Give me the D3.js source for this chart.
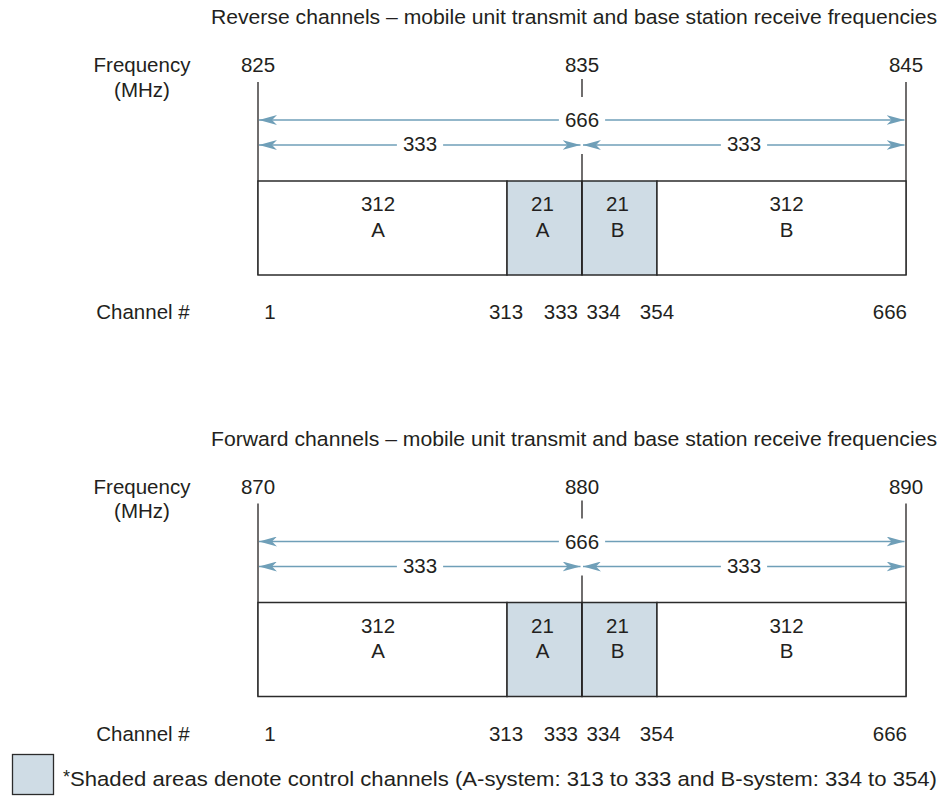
<!DOCTYPE html>
<html>
<head>
<meta charset="utf-8">
<script src="https://cdn.jsdelivr.net/npm/d3@7"></script>
<style>
  html, body { margin: 0; padding: 0; background: #fff; }
  svg { display: block; }
  text { font-family: "Liberation Sans", Arial, Helvetica, sans-serif; fill: #231f20; }
</style>
</head>
<body>
<svg id="chart" width="947" height="796"></svg>
<script>
// ---------------- DATA ----------------
const panelTitles = [
  "Reverse channels \u2013 mobile unit transmit and base station receive frequencies",
  "Forward channels \u2013 mobile unit transmit and base station receive frequencies"
];
const freqTicksReverse = [825, 835, 845];
const freqTicksForward = [870, 880, 890];
const freqLabel = ["Frequency", "(MHz)"];
const channelAxisLabel = "Channel #";

const segStart   = [0, 312, 333, 354];
const segEnd     = [312, 333, 354, 666];
const segCount   = [312, 21, 21, 312];
const segSystem  = ["A", "A", "B", "B"];
const segControl = [false, true, true, false];

const spanTotal = 666;        // total channels
const spanHalf  = [333, 333]; // A side, B side
const channelLabels = [1, 313, 333, 334, 354, 666];

const legendNote = "Shaded areas denote control channels (A-system: 313 to 333 and B-system: 334 to 354)";

// ---------------- LAYOUT ----------------
const W = 947, H = 796;
const left = 258, right = 906;
const panelOffsets = [0, 421.5];
const colText = "#231f20", colArrow = "#6f9fb8", colShade = "#cfdce5", colBox = "#2b2b2b";
const fs = 20.5;

const svg = d3.select("#chart");
const defs = svg.append("defs");
defs.append("marker")
  .attr("id", "ah").attr("viewBox", "0 0 18 10")
  .attr("refX", 18).attr("refY", 5)
  .attr("markerWidth", 18).attr("markerHeight", 10)
  .attr("markerUnits", "userSpaceOnUse")
  .attr("orient", "auto-start-reverse")
  .append("path").attr("d", "M0,0 L18,5 L0,10 L5,5 Z").attr("fill", colArrow);

// schematic channel scale (control bands drawn wider than proportional)
const frac = [0, 0.3843, 0.5, 0.6157, 1];
const chScale = d3.scaleLinear()
  .domain([0, 312, 333, 354, 666])
  .range(frac.map(f => left + f * (right - left)));

function fitText(sel, target) {
  const w = sel.node().getComputedTextLength();
  if (Math.abs(w - target) > 1) sel.attr("textLength", target).attr("lengthAdjust", "spacingAndGlyphs");
}

function drawPanel(idx, ticks) {
  const g = svg.append("g").attr("transform", `translate(0,${panelOffsets[idx]})`);
  const fScale = d3.scaleLinear().domain([ticks[0], ticks[ticks.length - 1]]).range([left, right]);

  // title
  const t = g.append("text").attr("x", 211).attr("y", 24).attr("font-size", fs).text(panelTitles[idx]);
  fitText(t, 726);

  // Frequency label
  freqLabel.forEach((s, i) => {
    g.append("text").attr("x", 142).attr("y", 72 + i * 24.5)
      .attr("text-anchor", "middle").attr("font-size", fs).text(s);
  });

  const boxTop = 181, boxBot = 275;

  // frequency tick labels
  g.selectAll("text.ft").data(ticks).join("text").attr("class", "ft")
    .attr("x", d => fScale(d)).attr("y", 72)
    .attr("text-anchor", "middle").attr("font-size", fs).text(d => d);

  // frequency tick lines
  ticks.forEach((d, i) => {
    const x = fScale(d);
    if (i === 0 || i === ticks.length - 1) {
      g.append("line").attr("x1", x).attr("x2", x).attr("y1", 82).attr("y2", boxBot)
        .attr("stroke", colText).attr("stroke-width", 1.3);
    } else {
      g.append("line").attr("x1", x).attr("x2", x).attr("y1", 79).attr("y2", 97)
        .attr("stroke", colText).attr("stroke-width", 1.3);
      g.append("line").attr("x1", x).attr("x2", x).attr("y1", 154).attr("y2", boxBot)
        .attr("stroke", colText).attr("stroke-width", 1.3);
    }
  });

  // segments (box)
  const segs = segStart.map((s, i) => ({ s, e: segEnd[i], n: segCount[i], sys: segSystem[i], ctrl: segControl[i] }));
  g.selectAll("rect.seg").data(segs).join("rect").attr("class", "seg")
    .attr("x", d => chScale(d.s)).attr("y", boxTop)
    .attr("width", d => chScale(d.e) - chScale(d.s)).attr("height", boxBot - boxTop)
    .attr("fill", d => d.ctrl ? colShade : "#fff")
    .attr("stroke", colBox).attr("stroke-width", 1.5);
  // centre divider on top
  g.append("line").attr("x1", fScale(ticks[1])).attr("x2", fScale(ticks[1]))
    .attr("y1", boxTop).attr("y2", boxBot).attr("stroke", colText).attr("stroke-width", 1.3);

  const nudge = [-4.5, -2, -2, 5];
  segs.forEach((d, i) => {
    const cx = (chScale(d.s) + chScale(d.e)) / 2 + nudge[i];
    g.append("text").attr("x", cx).attr("y", 211).attr("text-anchor", "middle").attr("font-size", fs).text(d.n);
    g.append("text").attr("x", cx).attr("y", 236.5).attr("text-anchor", "middle").attr("font-size", fs).text(d.sys);
  });

  // arrows
  function arrow(c0, c1, y, label, ty) {
    const x0 = chScale(c0) + 1, x1 = chScale(c1) - 1.5;
    g.append("line").attr("x1", x0).attr("x2", x1).attr("y1", y).attr("y2", y)
      .attr("stroke", colArrow).attr("stroke-width", 1.4)
      .attr("marker-start", "url(#ah)").attr("marker-end", "url(#ah)");
    const tx = g.append("text").attr("x", (chScale(c0) + chScale(c1)) / 2).attr("y", ty)
      .attr("text-anchor", "middle").attr("font-size", fs).text(label);
    const bb = tx.node().getBBox();
    g.insert("rect", () => tx.node())
      .attr("x", bb.x - 6).attr("y", y - 4).attr("width", bb.width + 12).attr("height", 8)
      .attr("fill", "#fff");
  }
  arrow(0, spanTotal, 120, spanTotal, 127);
  arrow(0, spanHalf[0], 145, spanHalf[0], 151);
  arrow(spanHalf[0], spanHalf[0] + spanHalf[1], 145, spanHalf[1], 151);

  // channel axis
  g.append("text").attr("x", 143).attr("y", 319).attr("text-anchor", "middle").attr("font-size", fs).text(channelAxisLabel);
  const chLayout = {
    1:   { at: 0,   dx: 12,  anchor: "middle" },
    313: { at: 312, dx: -1,  anchor: "middle" },
    333: { at: 333, dx: -4,  anchor: "end" },
    334: { at: 333, dx: 4.5, anchor: "start" },
    354: { at: 354, dx: 0,   anchor: "middle" },
    666: { at: 666, dx: 1,   anchor: "end" }
  };
  g.selectAll("text.ch").data(channelLabels).join("text").attr("class", "ch")
    .attr("x", d => chScale(chLayout[d].at) + chLayout[d].dx).attr("y", 319)
    .attr("text-anchor", d => chLayout[d].anchor).attr("font-size", fs).text(d => d);
}

drawPanel(0, freqTicksReverse);
drawPanel(1, freqTicksForward);

// legend
svg.append("rect").attr("x", 12.5).attr("y", 754.5).attr("width", 41).attr("height", 40)
  .attr("fill", colShade).attr("stroke", colBox).attr("stroke-width", 1.3);
svg.append("text").attr("x", 63).attr("y", 783).attr("font-size", 18).text("*");
const lt = svg.append("text").attr("x", 70).attr("y", 786).attr("font-size", fs).text(legendNote);
fitText(lt, 867);
</script>
</body>
</html>
